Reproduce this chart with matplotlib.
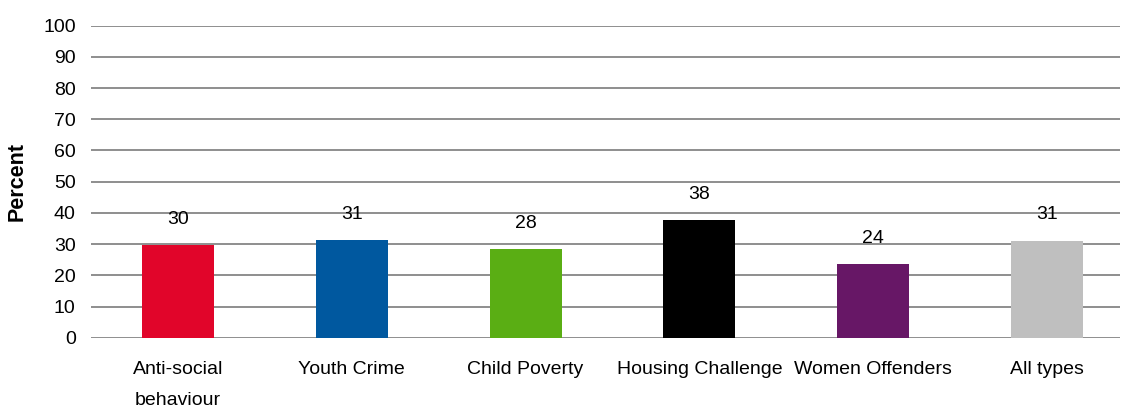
import matplotlib
matplotlib.use('Agg')
import matplotlib.pyplot as plt

plt.rcParams['font.family'] = ['Liberation Sans', 'DejaVu Sans']

categories = ['Anti-social\nbehaviour', 'Youth Crime', 'Child Poverty',
              'Housing Challenge', 'Women Offenders', 'All types']
values = [29.7, 31.3, 28.4, 37.7, 23.6, 31.0]
labels = ['30', '31', '28', '38', '24', '31']
colors = ['#E1052A', '#00589F', '#5AAE14', '#000000', '#671766', '#BFBFBF']
yticks = [0, 10, 20, 30, 40, 50, 60, 70, 80, 90, 100]

W, H = 1121, 407
fig = plt.figure(figsize=(W / 100, H / 100), dpi=100)
ax = fig.add_axes([91 / W, (H - 337.7) / H, (1120 - 91) / W, (337.7 - 25.7) / H])

x = list(range(len(categories)))
ax.bar(x, values, width=0.414, color=colors, zorder=3)

# value labels a fixed distance above each bar
for xi, v, lab in zip(x, values, labels):
    ax.annotate(lab, (xi, v), xytext=(0, 26), textcoords='offset pixels',
                ha='center', va='center', fontsize=14, color='black')

ax.set_xlim(-0.5, 5.42)
ax.set_ylim(0, 100)
ax.set_yticks(yticks)
ax.yaxis.grid(True, color='#868686', linewidth=1.3, zorder=0)
ax.set_axisbelow(True)
for s in ax.spines.values():
    s.set_visible(False)
ax.tick_params(axis='y', length=0, pad=11, labelsize=14)
ax.tick_params(axis='x', length=0, pad=17, labelsize=14)
ax.set_xticks(x)
ax.set_xticklabels(categories, linespacing=2.05, va='top')
ax.set_ylabel('Percent', fontsize=15.5, fontweight='bold', labelpad=11)

fig.savefig('out.png', dpi=100)
